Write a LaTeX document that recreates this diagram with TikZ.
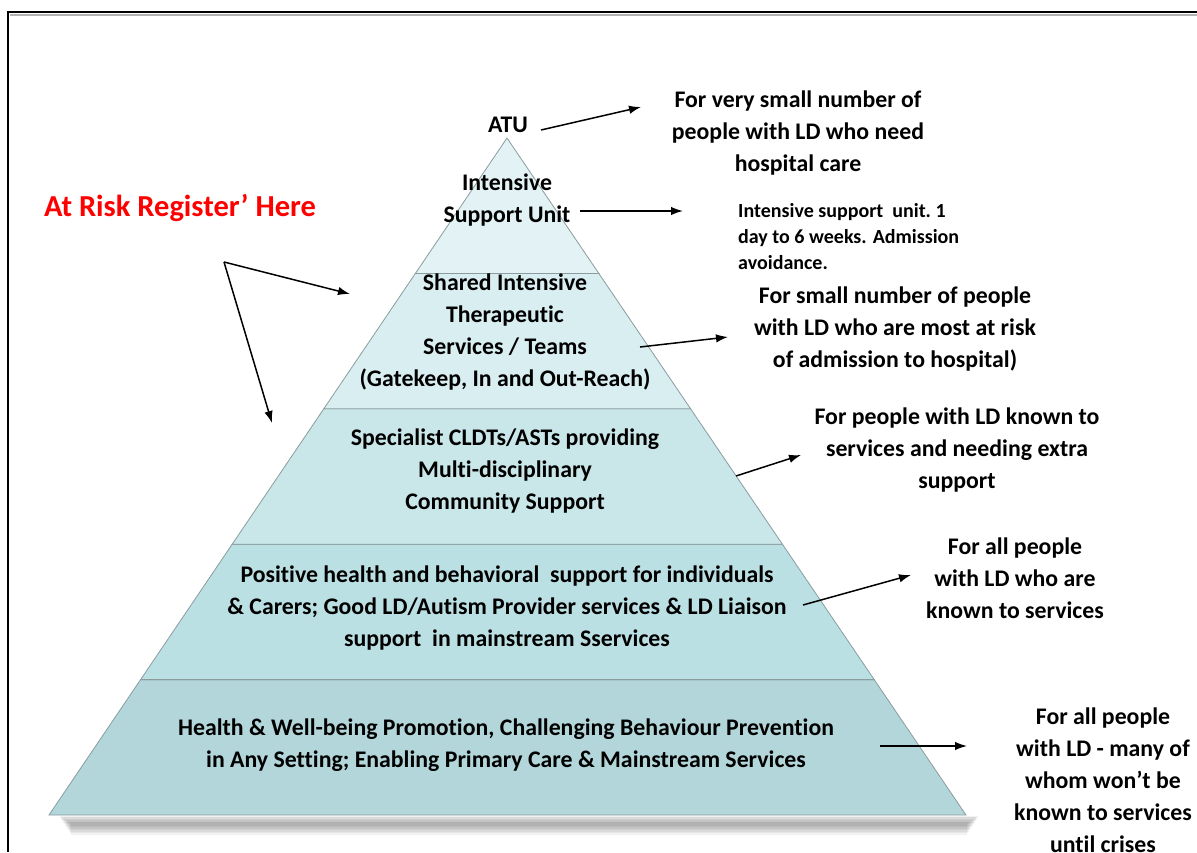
\documentclass[tikz,border=0pt]{standalone}
\usepackage{fontspec}
\setmainfont{Carlito}[Ligatures=NoCommon]
\usetikzlibrary{arrows.meta,calc}
\definecolor{lay1}{HTML}{E3F2F4}
\definecolor{lay2}{HTML}{D9EEF1}
\definecolor{lay3}{HTML}{C9E6E9}
\definecolor{lay4}{HTML}{BBE0E3}
\definecolor{lay5}{HTML}{B2D6D9}
\definecolor{edgegray}{HTML}{8A9C9E}
\definecolor{riskred}{HTML}{FF0000}
\begin{document}
\begin{tikzpicture}[x=1pt,y=-1pt,
  txt/.style={font=\fontsize{23.8}{32}\selectfont\bfseries, align=center, inner sep=0pt},
  small/.style={font=\fontsize{20}{26}\selectfont\bfseries, align=left, inner sep=0pt},
  arr/.style={-{Latex[length=12pt,width=8.5pt]}, line width=1.5pt},
  layer/.style={draw=edgegray, line width=0.8pt}]
\useasboundingbox (0,0) rectangle (1197,852);
% frame
\draw[gray!60, line width=1.5pt] (10,15) -- (1197,15);
\draw[line width=1.3pt] (8,852) -- (8,12) -- (1197,12);
% pyramid geometry
\coordinate (A) at (507,138);
\coordinate (BL) at (49,815);
\coordinate (BR) at (966,815);
\foreach \i/\t in {1/0.2,2/0.4,3/0.6,4/0.8}{
  \coordinate (L\i) at ($(A)!\t!(BL)$);
  \coordinate (R\i) at ($(A)!\t!(BR)$);
}
% shadow
\foreach \k in {0,...,11}{
  \fill[black, opacity=0.05] (60+\k,816+0.7*\k) rectangle (978-\k,818+1.5*\k);
}
\filldraw[layer, fill=lay5] (L4) -- (R4) -- (BR) -- (BL) -- cycle;
\filldraw[layer, fill=lay4] (L3) -- (R3) -- (R4) -- (L4) -- cycle;
\filldraw[layer, fill=lay3] (L2) -- (R2) -- (R3) -- (L3) -- cycle;
\filldraw[layer, fill=lay2] (L1) -- (R1) -- (R2) -- (L2) -- cycle;
\filldraw[layer, fill=lay1] (A) -- (R1) -- (L1) -- cycle;
% pyramid texts
\node[txt] (atu) at (508,125) {ATU};
\node[txt] (isu) at (507,200) {Intensive\\Support Unit};
\node[txt] (sits) at (505,332) {Shared Intensive\\Therapeutic\\Services / Teams\\(Gatekeep, In and Out-Reach)};
\node[txt] (cldt) at (505,471) {Specialist CLDTs/ASTs providing\\Multi-disciplinary\\Community Support};
\node[txt] (phb) at (507,608) {Positive health and behavioral\ \ support for individuals\\\& Carers; Good LD/Autism Provider services \& LD Liaison\\support\ \ in mainstream Sservices};
\node[txt] (hwb) at (506,745) {Health \& Well-being Promotion, Challenging Behaviour Prevention\\in Any Setting; Enabling Primary Care \& Mainstream Services};
% right labels
\node[txt] (l1) at (798,133) {For very small number of\\people with LD who need\\hospital care};
\node[small, anchor=north west] (l2) at (738,203) {Intensive support\ \ unit.\ 1\\day to 6 weeks. Admission\\avoidance.};
\node[txt] (l3) at (895,329) {For small number of people\\with LD who are most at risk\\of admission to hospital)};
\node[txt] (l4) at (957,450) {For people with LD known to\\services and needing extra\\support};
\node[txt] (l5) at (1015,578) {For all people\\with LD who are\\known to services};
\node[txt, anchor=north] (l6) at (1103,708) {For all people\\with LD - many of\\whom won’t be\\known to services\\until crises};
% red label
\node[font=\fontsize{30.5}{32}\selectfont\bfseries, text=riskred, inner sep=0pt] (risk) at (180,208) {At Risk Register’ Here};
% arrow coordinates
\coordinate (a1s) at (541,130); \coordinate (a1e) at (641,107);
\coordinate (a2s) at (580,211); \coordinate (a2e) at (683,211);
\coordinate (rv) at (224,262);
\coordinate (r1e) at (350,294); \coordinate (r2e) at (272,423);
\coordinate (a3s) at (640,347); \coordinate (a3e) at (728,337);
\coordinate (a4s) at (736,476); \coordinate (a4e) at (801,455);
\coordinate (a5s) at (803,605); \coordinate (a5e) at (911,575);
\coordinate (a6s) at (880,746); \coordinate (a6e) at (967,746);
\draw[arr] (a1s) -- (a1e);
\draw[arr] (a2s) -- (a2e);
\draw[arr] (rv) -- (r1e);
\draw[arr] (rv) -- (r2e);
\draw[arr] (a3s) -- (a3e);
\draw[arr] (a4s) -- (a4e);
\draw[arr] (a5s) -- (a5e);
\draw[arr] (a6s) -- (a6e);
\end{tikzpicture}
\end{document}
